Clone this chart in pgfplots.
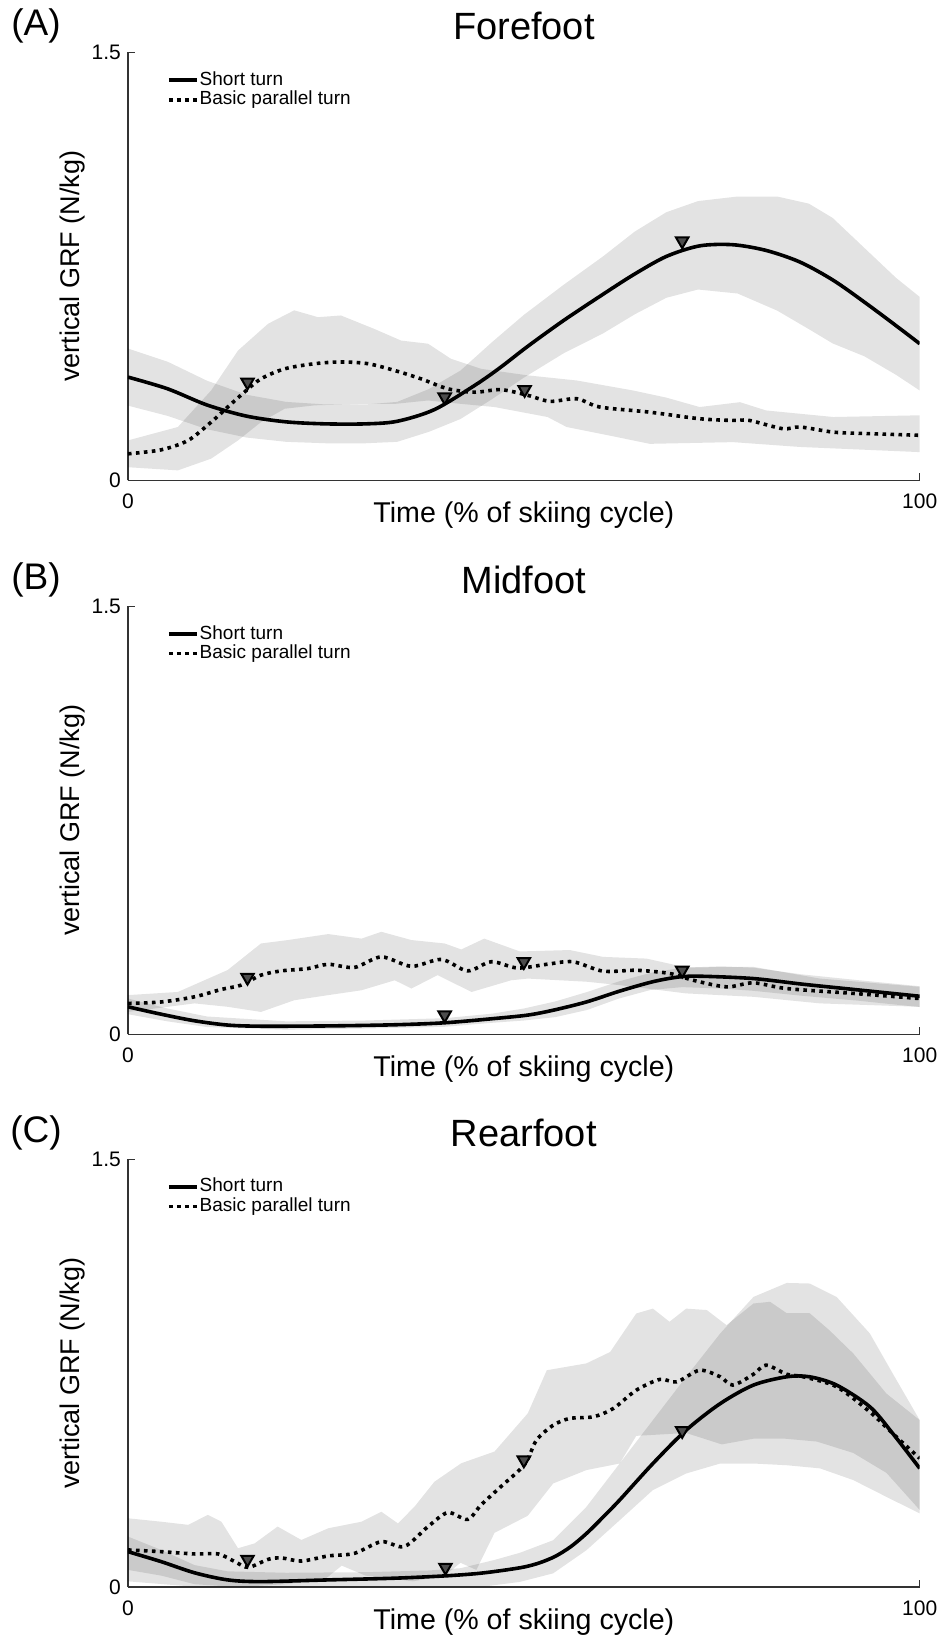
\documentclass[border=0pt]{standalone}
\usepackage{fontspec}
\setmainfont{Liberation Sans}
\usepackage{pgfplots}
\pgfplotsset{compat=1.18}

\pgfplotsset{
  grfpanel/.style={
    width=396pt, height=214pt, scale only axis,
    xmin=0, xmax=100, ymin=0, ymax=1.5,
    xtick={0,100}, ytick={0,1.5},
    axis lines*=left,
    axis line style={-, draw=black!80, line width=0.6pt},
    tick align=inside, major tick length=3.5pt,
    tick style={draw=black!80, line width=0.6pt},
    ticklabel style={font=\fontsize{10.5}{12}\selectfont},
    /pgf/number format/assume math mode=true,
    xticklabel style={anchor=center, yshift=-10.5pt},
    clip mode=individual,
    legend style={draw=none, fill=none, at={(0.049,0.959)}, anchor=north west,
      font=\fontsize{9.5}{10}\selectfont, inner sep=0pt, row sep=0pt,
      nodes={inner sep=0.5pt, text height=6.9pt, text depth=1.9pt}},
    legend cell align=left,
    legend image code/.code={\draw[##1] (0pt,0pt) -- (14pt,0pt);},
  },
  band/.style={draw=none, fill=black, fill opacity=0.11, forget plot},
  shortline/.style={black, line width=1.8pt, smooth, tension=0.5},
  basicline/.style={black, line width=1.8pt, dash pattern=on 1.8pt off 2.2pt, smooth, tension=0.5},
  peak/.style={only marks, mark=triangle*, mark size=3.6pt,
    mark options={rotate=180, fill=black!70, draw=black, line width=1pt, solid}, forget plot},
}
\newcommand{\panellabels}[2]{%
  \node[font=\fontsize{18.5}{20}\selectfont] at ([xshift=-46pt,yshift=13.25pt]rel axis cs:0,1) {#1};
  \node[font=\fontsize{19}{21}\selectfont] at ([yshift=13.25pt]rel axis cs:0.5,1) {#2};
  \node[rotate=90, font=\fontsize{13.5}{15}\selectfont] at ([xshift=-27.5pt]rel axis cs:0,0.5) {vertical GRF (N/kg)};
  \node[font=\fontsize{14.3}{16}\selectfont] at ([yshift=-17.5pt]rel axis cs:0.5,0) {Time (\% of skiing cycle)};
}

\begin{document}
\begin{tikzpicture}
\path[use as bounding box] (-64pt,-583pt) rectangle (409pt,240.25pt);

% (A) Forefoot
\begin{axis}[grfpanel, at={(0pt,0pt)}]
\addplot[band] coordinates {
  (0,0.462)(5,0.416)(10,0.349)(15,0.30)(20,0.275)(25,0.266)(30,0.266)(34,0.275)(38,0.32)(42,0.385)
  (46,0.485)(50,0.58)(55,0.685)(60,0.785)(64,0.872)(68,0.94)(72,0.979)(77,0.995)(82,0.995)(86,0.97)
  (89,0.92)(93,0.815)(97,0.71)(100,0.643)
  (100,0.315)(97,0.37)(93,0.435)(89,0.48)(86,0.53)(82,0.595)(77,0.655)(72,0.669)(68,0.64)(64,0.582)
  (60,0.515)(55,0.445)(50,0.36)(46,0.285)(42,0.215)(38,0.17)(34,0.135)(30,0.13)(25,0.13)(20,0.135)
  (15,0.15)(10,0.179)(5,0.226)(0,0.262)};
\addplot[band] coordinates {
  (0,0.14)(6.3,0.187)(10.5,0.315)(13.9,0.455)(17.7,0.549)(21,0.596)(24,0.572)(26.9,0.578)(31.1,0.531)
  (34.5,0.49)(37.9,0.479)(40.8,0.426)(44.6,0.391)(50.5,0.368)(56.7,0.35)(63.8,0.315)(68,0.29)
  (72.2,0.257)(77.3,0.274)(80.6,0.245)(89.1,0.222)(100,0.228)
  (100,0.099)(84.9,0.117)(76.4,0.134)(65.9,0.128)(61.7,0.152)(55.4,0.187)(53,0.222)(46.3,0.257)
  (42.1,0.268)(37.9,0.28)(33.7,0.268)(29.5,0.268)(23.6,0.263)(19.8,0.251)(16.8,0.204)(13.9,0.14)
  (10.5,0.076)(6.3,0.035)(0,0.046)};
\addplot[shortline] coordinates {
  (0,0.362)(5,0.321)(10,0.264)(15,0.225)(20,0.205)(25,0.198)(30,0.198)(34,0.207)
  (38.7,0.248)(43.8,0.333)(47,0.395)(50.5,0.47)(55,0.56)(59.6,0.645)(63.8,0.72)
  (68,0.785)(72.2,0.822)(76.4,0.826)(80.6,0.806)(84.9,0.765)(89.1,0.701)(93.3,0.619)(97.5,0.532)(100,0.479)};
\addlegendentry{Short turn}
\addplot[basicline] coordinates {
  (0,0.093)(4.2,0.107)(7.6,0.14)(10.5,0.204)(12.6,0.257)(14.7,0.309)(16.8,0.356)(19.8,0.391)
  (23.6,0.409)(26.9,0.415)(30.3,0.409)(33.7,0.385)(37,0.356)(40.4,0.321)(43.8,0.309)(47.1,0.318)
  (50.5,0.298)(53.3,0.277)(56.7,0.286)(59.6,0.257)(65.9,0.239)(72.2,0.216)(76.4,0.21)(78.5,0.21)
  (82.7,0.181)(84.9,0.187)(89.1,0.169)(93.3,0.164)(100,0.158)};
\addlegendentry{Basic parallel turn}
\addplot[peak] coordinates {(40,0.292)(70,0.839)};
\addplot[peak] coordinates {(15.1,0.344)(50.1,0.318)};
\panellabels{(A)}{Forefoot}
\end{axis}

% (B) Midfoot
\begin{axis}[grfpanel, at={(0pt,-277pt)}]
\addplot[band] coordinates {
  (0,0.125)(5,0.09)(10,0.062)(20,0.045)(30,0.048)(40,0.056)(46,0.072)(50,0.09)(54,0.115)(58,0.148)
  (62,0.185)(66,0.215)(70,0.233)(75,0.238)(79,0.233)(85,0.21)(92,0.19)(100,0.168)
  (100,0.095)(92,0.118)(85,0.135)(79,0.152)(75,0.16)(70,0.165)(66,0.155)(62,0.125)(58,0.085)
  (54,0.06)(50,0.048)(46,0.04)(40,0.026)(30,0.02)(20,0.016)(10,0.025)(5,0.045)(0,0.07)};
\addplot[band] coordinates {
  (0,0.137)(6.3,0.148)(12.6,0.225)(16.8,0.318)(20.2,0.33)(25.3,0.351)(29.5,0.335)(32,0.359)
  (35.8,0.33)(40,0.318)(42.1,0.297)(45,0.335)(49.5,0.29)(55.8,0.295)(60,0.271)(65.5,0.265)
  (70.5,0.234)(79,0.236)(87.4,0.195)(100,0.166)
  (100,0.096)(87.4,0.108)(79,0.131)(70.5,0.143)(62.1,0.172)(57.9,0.184)(50.5,0.195)(48.4,0.189)
  (43.4,0.148)(39.1,0.207)(35.8,0.16)(33.7,0.189)(29.5,0.154)(25.3,0.137)(21,0.119)(16.8,0.078)
  (12.6,0.096)(8.4,0.108)(0,0.078)};
\addplot[shortline] coordinates {
  (0,0.096)(4.2,0.07)(8.4,0.047)(12.6,0.032)(16.8,0.028)(25.3,0.029)(33.7,0.033)(40,0.04)
  (46.3,0.055)(50.5,0.067)(53.7,0.084)(57.9,0.113)(62.1,0.151)(66.3,0.184)(69.7,0.201)(72.6,0.203)
  (79,0.195)(85.3,0.175)(91.6,0.157)(100,0.133)};
\addlegendentry{Short turn}
\addplot[basicline] coordinates {
  (0,0.108)(4.2,0.113)(8.4,0.131)(11.8,0.157)(14.3,0.172)(16.8,0.207)(19.4,0.222)(22.7,0.23)
  (25.3,0.245)(28.6,0.234)(32,0.271)(35.8,0.238)(39.6,0.262)(42.9,0.222)(45.9,0.254)(49.2,0.232)
  (52.9,0.245)(56.2,0.254)(60,0.221)(64.2,0.224)(68.4,0.213)(71.4,0.189)(75.6,0.166)(79,0.18)
  (83.2,0.16)(91.6,0.143)(100,0.125)};
\addlegendentry{Basic parallel turn}
\addplot[peak] coordinates {(40,0.067)(70,0.224)};
\addplot[peak] coordinates {(15.1,0.199)(50,0.254)};
\panellabels{(B)}{Midfoot}
\end{axis}

% (C) Rearfoot
\begin{axis}[grfpanel, at={(0pt,-553.5pt)}]
\addplot[band] coordinates {
  (0,0.177)(4.2,0.13)(8.4,0.077)(12.6,0.055)(20,0.05)(30,0.052)(38,0.058)(42,0.066)(46.3,0.095)
  (49.5,0.12)(53.7,0.164)(57.9,0.281)(62.1,0.433)(66.3,0.585)(70.5,0.737)(74.8,0.889)(79,1.017)
  (83.2,1.066)(86.1,1.064)(89.5,1.017)(93.7,0.889)(96.6,0.748)(100,0.585)
  (100,0.258)(95.8,0.316)(91.6,0.375)(87.4,0.416)(83.2,0.427)(79,0.433)(74.8,0.433)(70.5,0.398)
  (66.3,0.34)(62.1,0.234)(57.9,0.129)(53.7,0.048)(49.5,0.018)(45,0.002)(20,0.002)(12.6,0.002)
  (8.4,0.01)(4.2,0.04)(0,0.06)};
\addplot[band] coordinates {
  (0,0.241)(4.2,0.229)(7.6,0.218)(10.1,0.253)(11.8,0.229)(13.9,0.136)(16,0.153)(18.9,0.212)
  (21.9,0.165)(25.3,0.206)(29.5,0.229)(32,0.264)(34.1,0.223)(36.2,0.282)(38.7,0.369)(42.1,0.434)
  (46.3,0.475)(50.5,0.609)(52.9,0.76)(57.9,0.784)(60.9,0.824)(64.2,0.959)(66.3,0.976)(68.4,0.93)
  (70.5,0.976)(73.1,0.971)(75.6,0.918)(79,0.994)(81.1,1.0)(83.2,0.96)(86.1,0.96)(88.6,0.9)
  (91.6,0.819)(95.8,0.678)(100,0.585)
  (100,0.27)(95.8,0.4)(91.6,0.47)(87,0.51)(83,0.52)(79,0.52)(75,0.5)(70.5,0.54)(64.2,0.53)
  (62.1,0.433)(57.9,0.41)(53.7,0.363)(50.5,0.25)(46.3,0.19)(44,0.06)(42,0.085)(40,0.04)(36,0.02)
  (33,0.03)(30,0.04)(27,0.075)(25,0.03)(20,0.01)(15,0.002)(8,0.002)(0,0.02)};
\addplot[shortline] coordinates {
  (0,0.124)(4.2,0.089)(8.4,0.05)(12.6,0.025)(16.8,0.019)(25.3,0.025)(33.7,0.031)(40,0.039)
  (44,0.047)(47,0.057)(50,0.07)(52,0.085)(54,0.108)(56,0.143)(58,0.19)(60,0.245)(62.1,0.305)
  (66.3,0.433)(70.5,0.55)(74.8,0.643)(79,0.708)(83.2,0.737)(86.1,0.737)(89.5,0.708)(93.7,0.632)
  (96.6,0.538)(100,0.416)};
\addlegendentry{Short turn}
\addplot[basicline] coordinates {
  (0,0.13)(4.2,0.124)(8.4,0.116)(11.4,0.116)(13.5,0.089)(15.2,0.069)(17.7,0.097)(19.4,0.102)
  (21.9,0.091)(25.3,0.109)(28.6,0.118)(32,0.159)(34.9,0.142)(37.9,0.212)(40.4,0.261)(42.9,0.237)
  (44.6,0.288)(47.1,0.352)(50.1,0.43)(51.6,0.515)(53.7,0.567)(55.8,0.591)(58.8,0.597)(61.3,0.626)
  (64.2,0.69)(67.2,0.728)(69.3,0.719)(72.2,0.76)(74.8,0.737)(76.4,0.708)(79,0.746)(80.6,0.778)
  (83.2,0.746)(85.3,0.737)(89.5,0.702)(93.7,0.614)(96.6,0.538)(100,0.451)};
\addlegendentry{Basic parallel turn}
\addplot[peak] coordinates {(40.1,0.069)(70,0.548)};
\addplot[peak] coordinates {(15.1,0.097)(50,0.445)};
\panellabels{(C)}{Rearfoot}
\end{axis}
\end{tikzpicture}
\end{document}
